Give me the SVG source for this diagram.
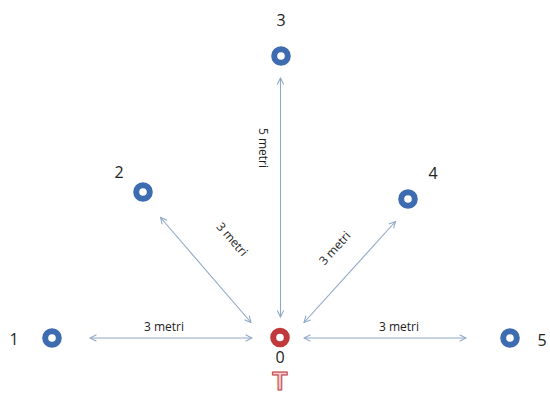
<svg xmlns="http://www.w3.org/2000/svg" width="550" height="396" viewBox="0 0 550 396">
<style>
.conn{stroke:#8ea8c6;stroke-width:1.1;fill:none;marker-start:url(#ah);marker-end:url(#ah)}
.ring{fill:none;stroke:#3d6cb0;stroke-width:6}
.ringr{fill:none;stroke:#c0393b;stroke-width:6}
.num{font-family:"Open Sans","Liberation Sans",sans-serif;font-size:16px;fill:#222;text-anchor:middle}
.lbl{font-family:"Open Sans","Liberation Sans",sans-serif;font-size:12px;fill:#222;text-anchor:middle}
</style>
<defs>
<marker id="ah" viewBox="0 0 10 10" refX="9" refY="5" markerWidth="8" markerHeight="8" markerUnits="userSpaceOnUse" orient="auto-start-reverse">
<polyline points="1,1 9,5 1,9" fill="none" stroke="#8ea8c6" stroke-width="1.3"/>
</marker>
</defs>
<rect width="550" height="396" fill="#ffffff"/>
<g id="connectors">
<line class="conn" x1="90" y1="338" x2="252" y2="338"/>
<line class="conn" x1="304" y1="338" x2="466" y2="338"/>
<line class="conn" x1="280.5" y1="78" x2="280.5" y2="317"/>
<line class="conn" x1="160.5" y1="217.5" x2="251" y2="322.5"/>
<line class="conn" x1="395.5" y1="221.5" x2="304" y2="322.5"/>
<text class="lbl" x="164" y="331">3 metri</text>
<text class="lbl" x="399" y="331">3 metri</text>
<text class="lbl" transform="translate(259,148) rotate(90)">5 metri</text>
<text class="lbl" transform="translate(229,242) rotate(49)">3 metri</text>
<text class="lbl" transform="translate(338,251) rotate(-48)">3 metri</text>
</g>
<g id="node0">
<circle class="ringr" cx="280" cy="337.5" r="6.8"/>
<text class="num" x="280" y="363">0</text>
<text x="280" y="390" font-family="Liberation Sans,sans-serif" font-size="25" font-weight="bold" text-anchor="middle" fill="#f4c9c9" stroke="#c0393b" stroke-width="1">T</text>
</g>
<g id="node1">
<circle class="ring" cx="52" cy="338" r="6.8"/>
<text class="num" x="14" y="345">1</text>
</g>
<g id="node2">
<circle class="ring" cx="143" cy="192" r="6.8"/>
<text class="num" x="119" y="178">2</text>
</g>
<g id="node3">
<circle class="ring" cx="281" cy="56" r="6.8"/>
<text class="num" x="281" y="26">3</text>
</g>
<g id="node4">
<circle class="ring" cx="408" cy="199" r="6.8"/>
<text class="num" x="433" y="179">4</text>
</g>
<g id="node5">
<circle class="ring" cx="510" cy="338" r="6.8"/>
<text class="num" x="542" y="346">5</text>
</g>
</svg>
